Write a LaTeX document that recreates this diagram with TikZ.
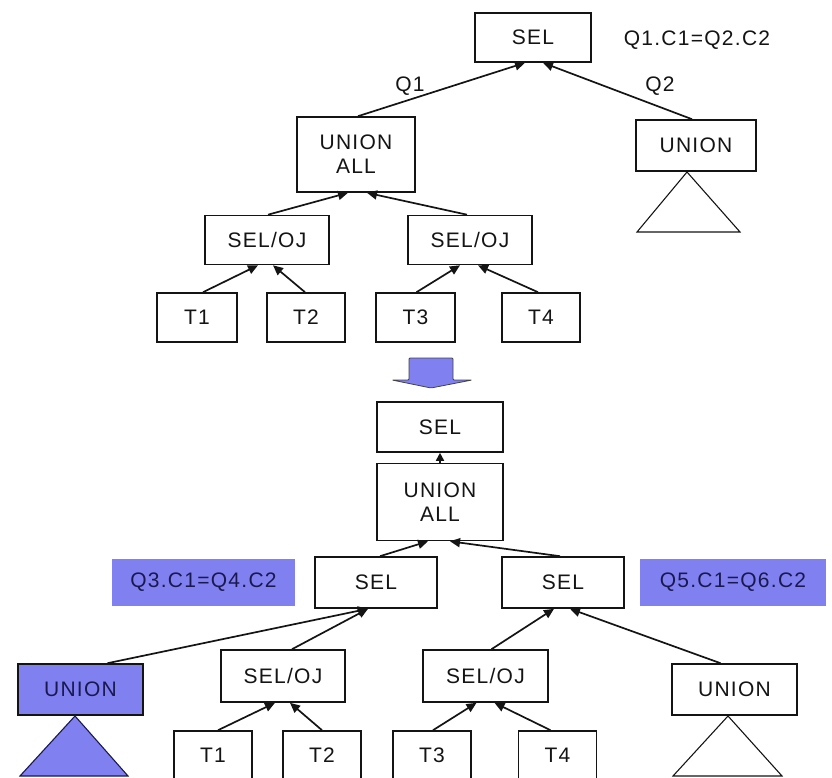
\documentclass[tikz,border=0pt]{standalone}
\usepackage{fontspec}
\setmainfont[LetterSpace=6]{Liberation Sans}
\usetikzlibrary{arrows.meta}
\definecolor{qblue}{RGB}{128,128,240}
\definecolor{navy}{RGB}{25,25,80}
\definecolor{lineblk}{RGB}{20,20,20}
\begin{document}
\begin{tikzpicture}[x=1pt,y=-1pt,font=\fontsize{21}{24}\selectfont,
  box/.style={draw=lineblk,line width=1.6pt,inner sep=0pt,align=center,fill=white,text=lineblk},
  tbox/.style={box,minimum width=79pt,minimum height=49pt},
  sbox/.style={box,minimum width=124pt,minimum height=49pt},
  qlabel/.style={fill=qblue,inner sep=0pt,text=navy,minimum height=47pt},
  arr/.style={draw=lineblk,line width=1.7pt,-{Triangle[length=10pt,width=9pt]}},
  tri/.style={draw=lineblk,line width=1.1pt},
  elabel/.style={text=lineblk,inner sep=0pt}]
\useasboundingbox (0,0) rectangle (832,778);

% ---------- top tree ----------
\node[box,minimum width=116pt,minimum height=49pt] (sel1) at (533,37.5) {SEL};
\node[elabel] (cond1) at (697,40) {Q1.C1=Q2.C2};
\node[box,minimum width=118pt,minimum height=75pt] (ua1) at (356,154.5) {UNION\\ALL};
\node[box,minimum width=120pt,minimum height=51pt] (un1) at (696,145.5) {UNION};
\draw[tri] (687,172) -- (740,232) -- (637,232) -- cycle;
\node[sbox] (soj1) at (267,240) {SEL/OJ};
\node[sbox] (soj2) at (470,240) {SEL/OJ};
\node[tbox,minimum width=80pt] (t1) at (197,317.5) {T1};
\node[tbox,minimum width=78pt] (t2) at (306,317.5) {T2};
\node[tbox] (t3) at (415.5,317.5) {T3};
\node[tbox,minimum width=78pt] (t4) at (541,317.5) {T4};

\draw[arr] ([xshift=2pt]ua1.north) -- ([xshift=-8pt]sel1.south);
\draw[arr] ([xshift=-4pt]un1.north) -- ([xshift=10pt]sel1.south);
\node[elabel] (q1) at (410,86) {Q1};
\node[elabel] (q2) at (660,86) {Q2};
\draw[arr] ([xshift=1pt]soj1.north) -- ([xshift=-8pt]ua1.south);
\draw[arr] ([xshift=-3pt]soj2.north) -- ([xshift=11pt]ua1.south);
\draw[arr] ([xshift=6pt]t1.north) -- ([xshift=-9pt]soj1.south);
\draw[arr] ([xshift=-1pt]t2.north) -- ([xshift=6pt]soj1.south);
\draw[arr] ([xshift=1pt]t3.north) -- ([xshift=-10pt]soj2.south);
\draw[arr] ([xshift=-3pt]t4.north) -- ([xshift=8pt]soj2.south);

% ---------- block arrow ----------
\draw[fill=qblue,draw=lineblk!80,line width=0.8pt,rounded corners=1pt]
  (409,358) -- (453,358) -- (453,380) -- (472,380) -- (431,388) -- (392,380) -- (409,380) -- cycle;

% ---------- bottom tree ----------
\node[box,minimum width=126pt,minimum height=50pt] (sel2) at (440,427) {SEL};
\node[box,minimum width=126pt,minimum height=77pt] (ua2) at (440,502) {UNION\\ALL};
\node[box,minimum width=122pt,minimum height=51pt] (selL) at (376,582.5) {SEL};
\node[box,minimum width=122pt,minimum height=51pt] (selR) at (563,582.5) {SEL};
\node[qlabel,minimum width=183pt] (q3) at (203.5,582.5) {Q3.C1=Q4.C2};
\node[qlabel,minimum width=186pt] (q5) at (733,582.5) {Q5.C1=Q6.C2};
\node[box,fill=qblue,text=navy,minimum width=125pt,minimum height=51pt] (unB) at (80.5,689.5) {UNION};
\draw[fill=qblue,draw=navy,line width=1.1pt] (75,716) -- (128,776) -- (20,776) -- cycle;
\node[sbox,minimum height=52pt] (soj3) at (283,676) {SEL/OJ};
\node[sbox,minimum width=125pt,minimum height=52pt] (soj4) at (485.5,676) {SEL/OJ};
\node[box,minimum width=125pt,minimum height=51pt] (unR) at (734.5,689.5) {UNION};
\draw[tri] (728,716) -- (782,776) -- (673,776) -- cycle;
\node[tbox,minimum width=78pt] (t1b) at (213,755.5) {T1};
\node[tbox,minimum width=78pt] (t2b) at (322,755.5) {T2};
\node[tbox,minimum width=78pt] (t3b) at (432,755.5) {T3};
\node[tbox,minimum width=78pt] (t4b) at (557.5,755.5) {T4};

\draw[arr,-{Triangle[length=8pt,width=8pt]}] (ua2.north) -- (sel2.south);
\draw[arr] ([xshift=4pt]selL.north) -- ([xshift=-12pt]ua2.south);
\draw[arr] ([xshift=-3pt]selR.north) -- ([xshift=10pt]ua2.south);
\draw[arr] ([xshift=27pt]unB.north) -- ([xshift=-8pt]selL.south);
\draw[arr] ([xshift=9pt]soj3.north) -- ([xshift=-8pt]selL.south);
\draw[arr] ([xshift=5pt]t1b.north) -- ([xshift=-8pt]soj3.south);
\draw[arr] (t2b.north) -- ([xshift=7pt]soj3.south);
\draw[arr] ([xshift=1pt]t3b.north) -- ([xshift=-9pt]soj4.south);
\draw[arr] ([xshift=-7pt]t4b.north) -- ([xshift=9pt]soj4.south);
\draw[arr] ([xshift=6pt]soj4.north) -- ([xshift=-9pt]selR.south);
\draw[arr] ([xshift=-14pt]unR.north) -- ([xshift=7pt]selR.south);
\end{tikzpicture}
\end{document}
